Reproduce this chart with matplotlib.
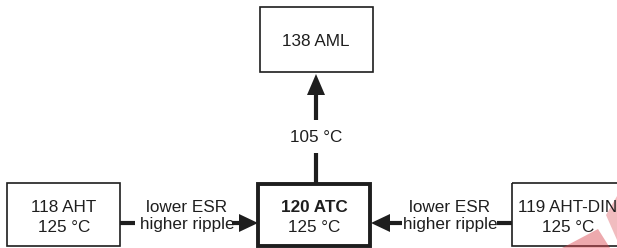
import matplotlib
matplotlib.use("Agg")
import matplotlib.pyplot as plt
from matplotlib.patches import Rectangle, Polygon

plt.rcParams['font.family'] = ['Liberation Sans', 'DejaVu Sans']

# Diagram content
box_names = ["138 AML", "118 AHT", "120 ATC", "119 AHT-DIN"]
box_temps = ["", "125 \u00b0C", "125 \u00b0C", "125 \u00b0C"]
edge_labels = ["105 \u00b0C", "lower ESR", "higher ripple"]

W, H = 617, 248
fig = plt.figure(figsize=(W / 100, H / 100), dpi=100)
ax = fig.add_axes([0, 0, 1, 1])
ax.set_xlim(0, W)
ax.set_ylim(H, 0)
ax.axis('off')

FS = 12.3
col = '#1e1e1e'

# boxes: (x0, y0, x1, y1, lw)
boxes = [(260, 7, 373, 72, 1.2), (7, 183, 120, 246, 1.2), (258, 184, 370, 246, 2.8), (512, 183, 640, 246, 1.2)]
for (x0, y0, x1, y1, lw) in boxes:
    ax.add_patch(Rectangle((x0, y0), x1 - x0, y1 - y0, fill=False, ec=col, lw=lw))

# text in boxes
ax.text(316, 41, box_names[0], ha='center', va='center', fontsize=FS, color=col)
ax.text(64, 207, box_names[1], ha='center', va='center', fontsize=FS, color=col)
ax.text(64, 228, box_temps[1], ha='center', va='center', fontsize=FS, color=col)
ax.text(314, 207, box_names[2], ha='center', va='center', fontsize=FS, color=col, fontweight='bold')
ax.text(314, 228, box_temps[2], ha='center', va='center', fontsize=FS, color=col)
ax.text(568, 207, box_names[3], ha='center', va='center', fontsize=FS, color=col)
ax.text(568, 228, box_temps[3], ha='center', va='center', fontsize=FS, color=col)

# vertical connector
ax.plot([316, 316], [184, 153], color=col, lw=3, solid_capstyle='butt')
ax.plot([316, 316], [120, 94], color=col, lw=3, solid_capstyle='butt')
ax.add_patch(Polygon([[316, 74], [307, 95], [325, 95]], closed=True, fc=col, ec='none'))
ax.text(316, 137, edge_labels[0], ha='center', va='center', fontsize=FS, color=col)

# left connector
ax.plot([120, 135], [223, 223], color=col, lw=3, solid_capstyle='butt')
ax.plot([232, 241], [223, 223], color=col, lw=3, solid_capstyle='butt')
ax.add_patch(Polygon([[258, 223], [239, 214], [239, 232]], closed=True, fc=col, ec='none'))
ax.text(187, 207, edge_labels[1], ha='center', va='center', fontsize=FS, color=col)
ax.text(187, 225, edge_labels[2], ha='center', va='center', fontsize=FS, color=col)

# right connector
ax.plot([497, 512], [223, 223], color=col, lw=3, solid_capstyle='butt')
ax.plot([389, 402], [223, 223], color=col, lw=3, solid_capstyle='butt')
ax.add_patch(Polygon([[371, 223], [390, 214], [390, 232]], closed=True, fc=col, ec='none'))
ax.text(450, 207, edge_labels[1], ha='center', va='center', fontsize=FS, color=col)
ax.text(450, 225, edge_labels[2], ha='center', va='center', fontsize=FS, color=col)

# faint watermark shapes
ax.add_patch(Polygon([[562, 248], [598, 229], [610, 248]], closed=True, fc='#d9404a', ec='none', alpha=0.45))
ax.add_patch(Polygon([[606, 215], [617, 196], [617, 240]], closed=True, fc='#d9404a', ec='none', alpha=0.35))

fig.savefig('out.png', dpi=100)
